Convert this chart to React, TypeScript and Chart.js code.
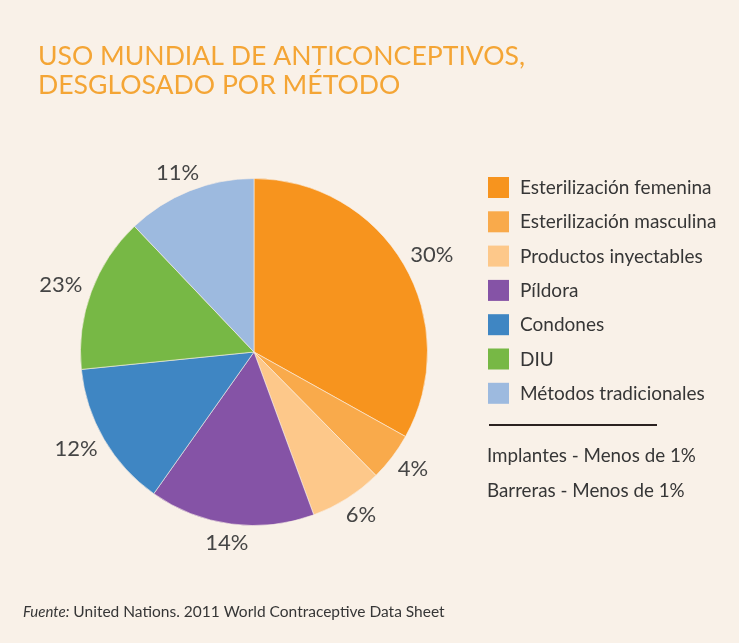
import React, { useEffect, useRef } from "react";
import { Chart, registerables } from "chart.js";

Chart.register(...registerables);

const titleLines = ["USO MUNDIAL DE ANTICONCEPTIVOS,", "DESGLOSADO POR MÉTODO"];
const categories = [
  "Esterilización femenina",
  "Esterilización masculina",
  "Productos inyectables",
  "Píldora",
  "Condones",
  "DIU",
  "Métodos tradicionales",
];
// slice sizes as drawn in the picture (share of the circle, %)
const sliceShares = [33.1, 4.5, 6.8, 15.4, 13.6, 14.5, 12.1];
// percentage labels printed next to the slices
const percentLabels = ["30%", "4%", "6%", "14%", "12%", "23%", "11%"];
const colors = ["#F7941E", "#F9AA4B", "#FDC88A", "#8553A6", "#3F86C3", "#77B845", "#9DBADF"];
const notes = ["Implantes - Menos de 1%", "Barreras - Menos de 1%"];
const sourceLabel = "Fuente:";
const sourceText = " United Nations. 2011 World Contraceptive Data Sheet";

const BG = "#F9F1E8";
const FONT = "Lato, 'Open Sans', sans-serif";

const decorPlugin = {
  id: "decor",
  beforeDraw(chart: any) {
    const ctx = chart.ctx;
    ctx.save();
    ctx.fillStyle = BG;
    ctx.fillRect(0, 0, chart.width, chart.height);
    ctx.restore();
  },
  afterDraw(chart: any) {
    const ctx = chart.ctx;
    ctx.save();
    // title
    ctx.fillStyle = "#F4A535";
    ctx.font = `26.6px ${FONT}`;
    ctx.textBaseline = "alphabetic";
    ctx.textAlign = "left";
    ctx.fillText(titleLines[0], 38, 65);
    ctx.fillText(titleLines[1], 38, 94);

    // percentage labels
    const meta = chart.getDatasetMeta(0);
    ctx.font = `22px ${FONT}`;
    ctx.fillStyle = "#454545";
    ctx.textAlign = "center";
    ctx.textBaseline = "middle";
    meta.data.forEach((arc: any, i: number) => {
      const p = arc.getProps(["x", "y", "startAngle", "endAngle", "outerRadius"], true);
      const mid = (p.startAngle + p.endAngle) / 2;
      const cx = Math.cos(mid);
      const sy = Math.sin(mid);
      const txt = percentLabels[i];
      const w = ctx.measureText(txt).width;
      const h = 16;
      const d = p.outerRadius + 11;
      const x = p.x + cx * d + cx * (w / 2);
      const y = p.y + sy * d + sy * (h / 2);
      ctx.fillText(txt, x, y);
    });

    // legend
    ctx.textAlign = "left";
    ctx.font = `19px ${FONT}`;
    categories.forEach((c, i) => {
      const top = 177 + i * 34.3;
      ctx.fillStyle = colors[i];
      ctx.fillRect(488, top, 21, 21);
      ctx.fillStyle = "#363636";
      ctx.fillText(c, 520, top + 11);
    });

    // separator
    ctx.strokeStyle = "#2b2220";
    ctx.lineWidth = 2;
    ctx.beginPath();
    ctx.moveTo(489, 425);
    ctx.lineTo(657, 425);
    ctx.stroke();

    ctx.font = `18.8px ${FONT}`;
    ctx.fillStyle = "#363636";
    ctx.fillText(notes[0], 487, 456);
    ctx.fillText(notes[1], 487, 491);

    // source
    ctx.textBaseline = "alphabetic";
    ctx.font = `italic 15px ${FONT}`;
    ctx.fillText(sourceLabel, 23, 617);
    const sw = ctx.measureText(sourceLabel).width;
    ctx.font = `15.5px ${FONT}`;
    ctx.fillText(sourceText, 23 + sw, 617);
    ctx.restore();
  },
};

export default function App() {
  const ref = useRef<HTMLCanvasElement>(null);
  useEffect(() => {
    document.body.style.margin = "0";
    document.body.style.background = BG;
    const chart = new Chart(ref.current!, {
      type: "pie",
      data: {
        labels: categories,
        datasets: [
          {
            data: sliceShares,
            backgroundColor: colors,
            borderColor: "rgba(250,240,230,0.6)",
            borderWidth: 1,
          },
        ],
      },
      options: {
        animation: false,
        responsive: false,
        devicePixelRatio: 1,
        layout: { padding: { left: 80, right: 311, top: 178, bottom: 117 } },
        plugins: {
          legend: { display: false },
          tooltip: { enabled: false },
          title: { display: false },
        },
      },
      plugins: [decorPlugin],
    });
    return () => chart.destroy();
  }, []);
  return <canvas ref={ref} width={739} height={643} style={{ display: "block" }} />;
}
